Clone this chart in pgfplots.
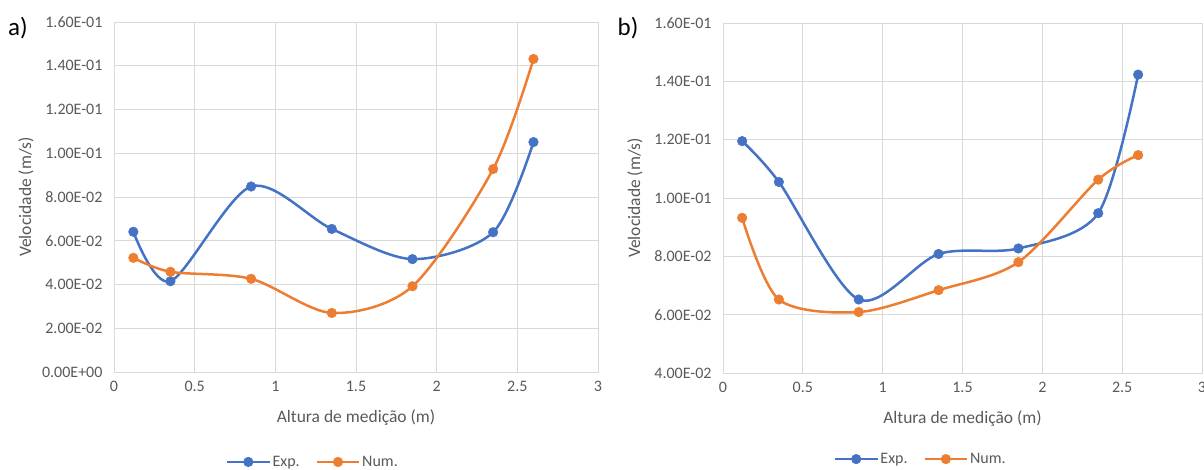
\documentclass[border=0pt]{standalone}
\usepackage{pgfplots}
\pgfplotsset{compat=1.18}
\usepackage{fontspec}
\setmainfont{Carlito}
\definecolor{expc}{HTML}{4472C4}
\definecolor{numc}{HTML}{ED7D31}
\definecolor{gridc}{HTML}{D9D9D9}
\definecolor{txt}{HTML}{595959}
\pgfplotsset{
  myax/.style={
    scale only axis, height=350pt,
    xmin=0, xmax=3, xtick={0,0.5,1,1.5,2,2.5,3},
    xticklabels={0,0.5,1,1.5,2,2.5,3},
    grid=major, major grid style={gridc, line width=0.9pt},
    axis line style={gridc, line width=0.9pt},
    major tick length=0pt,
    ticklabel style={font=\fontsize{16}{19}\selectfont, text=txt},
    xticklabel style={yshift=-6pt},
    yticklabel style={xshift=-8pt},
    label style={font=\fontsize{17.5}{21}\selectfont, text=txt},
    xlabel={Altura de medição (m)},
    ylabel={Velocidade (m/s)},
    xlabel style={at={(axis description cs:0.5,-0.131)}, anchor=center},
    legend columns=2,
    legend style={draw=none, fill=none, font=\fontsize{16}{19}\selectfont, text=txt,
      /tikz/every even column/.append style={column sep=14pt}},
    legend image code/.code={\draw[mark repeat=2, mark phase=2, #1] plot coordinates {(0pt,0pt) (21pt,0pt) (42pt,0pt)};},
  },
  ser/.style={color=#1, line width=2.5pt, smooth, tension=0.5, mark=*, mark size=4.8pt, mark options={fill=#1, draw=#1, line width=0.5pt}},
}
\begin{document}
\begin{tikzpicture}
\path[use as bounding box] (0,0) rectangle (1204pt,-470pt);
\begin{axis}[myax, width=484pt, at={(114pt,-372pt)}, anchor=south west,
  ymin=0, ymax=0.16, ytick={0,0.02,0.04,0.06,0.08,0.10,0.12,0.14,0.16},
  yticklabels={0.00E+00,2.00E-02,4.00E-02,6.00E-02,8.00E-02,1.00E-01,1.20E-01,1.40E-01,1.60E-01},
  ylabel style={at={(axis description cs:-0.182,0.5)}, anchor=center},
  legend style={at={(0.411,-0.257)}, anchor=center}]
\addplot[ser=expc] coordinates {(0.12,0.0641) (0.35,0.0415) (0.85,0.0848) (1.35,0.0654) (1.85,0.0516) (2.35,0.0639) (2.6,0.1051)};
\addlegendentry{Exp.}
\addplot[ser=numc] coordinates {(0.12,0.0522) (0.35,0.0458) (0.85,0.0426) (1.35,0.0270) (1.85,0.0392) (2.35,0.0928) (2.6,0.1431)};
\addlegendentry{Num.}
\end{axis}
\begin{axis}[myax, width=479pt, at={(723pt,-373pt)}, anchor=south west,
  ymin=0.04, ymax=0.16, ytick={0.04,0.06,0.08,0.10,0.12,0.14,0.16},
  yticklabels={4.00E-02,6.00E-02,8.00E-02,1.00E-01,1.20E-01,1.40E-01,1.60E-01},
  ylabel style={at={(axis description cs:-0.184,0.5)}, anchor=center},
  legend style={at={(0.413,-0.246)}, anchor=center}]
\addplot[ser=expc] coordinates {(0.12,0.1195) (0.35,0.1055) (0.85,0.0652) (1.35,0.0808) (1.85,0.0827) (2.35,0.0948) (2.6,0.1423)};
\addlegendentry{Exp.}
\addplot[ser=numc] coordinates {(0.12,0.0932) (0.35,0.0652) (0.85,0.0609) (1.35,0.0684) (1.85,0.0780) (2.35,0.1063) (2.6,0.1147)};
\addlegendentry{Num.}
\end{axis}
\node[font=\fontsize{25}{30}\selectfont] at (18pt,-28pt) {a)};
\node[font=\fontsize{25}{30}\selectfont] at (628pt,-28pt) {b)};
\end{tikzpicture}
\end{document}
